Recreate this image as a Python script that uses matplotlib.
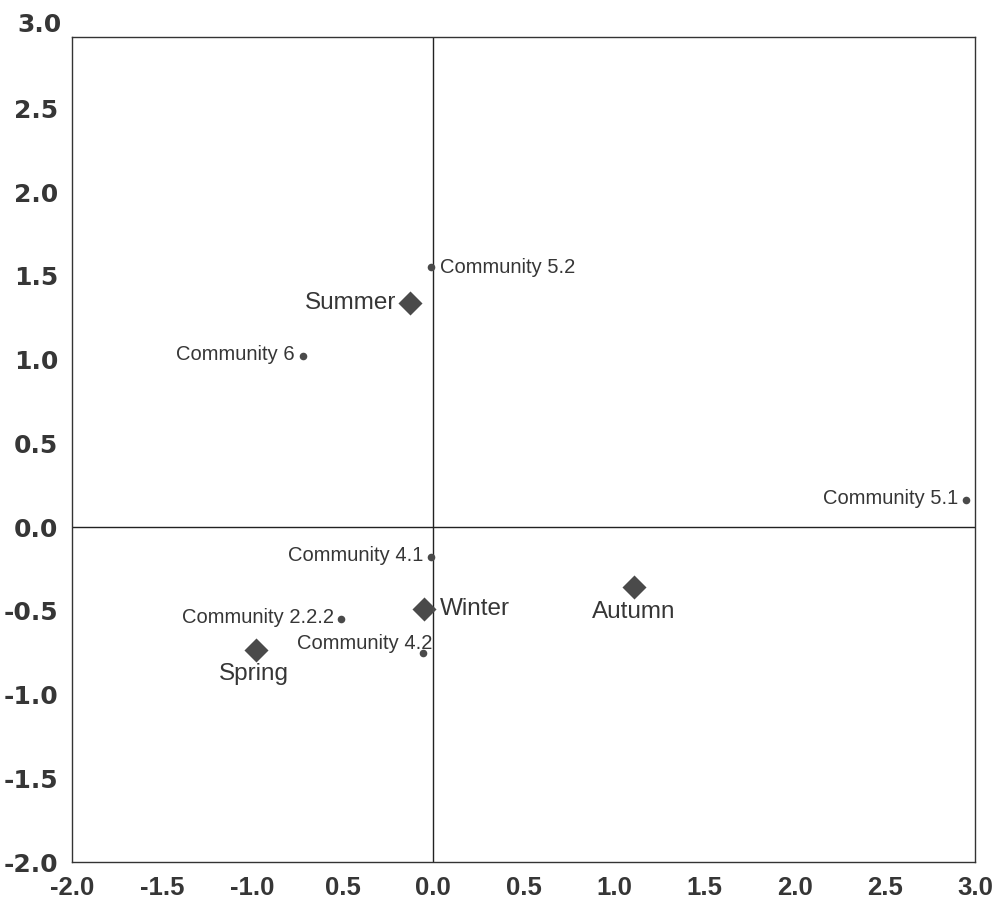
import matplotlib
matplotlib.use("Agg")
import matplotlib.pyplot as plt
import matplotlib.transforms as mtransforms

# Ordination scores: sampling seasons (diamonds) and communities (dots)
season_names = ["Summer", "Winter", "Autumn", "Spring"]
season_x = [-0.13, -0.05, 1.11, -0.98]
season_y = [1.34, -0.49, -0.36, -0.735]

community_names = ["Community 5.2", "Community 6", "Community 5.1",
                   "Community 4.1", "Community 2.2.2", "Community 4.2"]
community_x = [-0.01, -0.72, 2.95, -0.01, -0.51, -0.057]
community_y = [1.55, 1.02, 0.16, -0.18, -0.55, -0.75]

x_ticks = [-2.0, -1.5, -1.0, -0.5, 0.0, 0.5, 1.0, 1.5, 2.0, 2.5, 3.0]
x_tick_labels = ["-2.0", "-1.5", "-1.0", "0.5", "0.0", "0.5", "1.0", "1.5", "2.0", "2.5", "3.0"]
y_ticks = [-2.0, -1.5, -1.0, -0.5, 0.0, 0.5, 1.0, 1.5, 2.0, 2.5]
y_tick_labels = ["-2.0", "-1.5", "-1.0", "-0.5", "0.0", "0.5", "1.0", "1.5", "2.0", "2.5"]
y_top_label = "3.0"

text_col = "#363636"
mark_col = "#4a4a4a"

fig = plt.figure(figsize=(9.98, 9.05), dpi=100)
ax = fig.add_axes([0.0721, 0.0475, 0.905, 0.9115])
ax.set_xlim(-2.0, 3.0)
ax.set_ylim(-2.0, 2.925)

for s in ax.spines.values():
    s.set_color("#333333")
    s.set_linewidth(1.0)

# Zero reference lines
ax.axhline(0, color="#222222", lw=1.0, zorder=1)
ax.axvline(0, color="#222222", lw=1.0, zorder=1)

# Seasons
ax.scatter(season_x, season_y, marker="D", s=150, color=mark_col, zorder=3, linewidths=0)
# Communities
ax.scatter(community_x, community_y, marker="o", s=30, color=mark_col, zorder=3, linewidths=0)

season_font = dict(fontsize=17.5, color=text_col, family="Liberation Sans")
comm_font = dict(fontsize=14.5, color=text_col, family="Liberation Sans")

# Season labels
offsets_season = {
    "Summer": ((-10, 0), "right", "center"),
    "Winter": ((11, 0), "left", "center"),
    "Autumn": ((0, -10), "center", "top"),
    "Spring": ((-2, -9.5), "center", "top"),
}
for name, x, y in zip(season_names, season_x, season_y):
    (dx, dy), ha, va = offsets_season[name]
    ax.annotate(name, (x, y), xytext=(dx, dy), textcoords="offset points",
                ha=ha, va=va, **season_font)

# Community labels
offsets_comm = {
    "Community 5.2": ((6, 0), "left", "center"),
    "Community 6": ((-6, 1), "right", "center"),
    "Community 5.1": ((-6, 1), "right", "center"),
    "Community 4.1": ((-6, 1), "right", "center"),
    "Community 2.2.2": ((-5, 1), "right", "center"),
    "Community 4.2": ((7, 0), "right", "bottom"),
}
for name, x, y in zip(community_names, community_x, community_y):
    (dx, dy), ha, va = offsets_comm[name]
    ax.annotate(name, (x, y), xytext=(dx, dy), textcoords="offset points",
                ha=ha, va=va, **comm_font)

# Ticks
ax.set_xticks(x_ticks)
ax.set_xticklabels(x_tick_labels, family="Liberation Sans",
                   fontweight="bold", fontsize=18.5, color=text_col)
ax.set_yticks(y_ticks)
ax.set_yticklabels(y_tick_labels, family="DejaVu Sans", fontweight="bold",
                   fontsize=18, color=text_col)
ax.tick_params(axis="both", length=0)
ax.tick_params(axis="x", pad=10)
ax.tick_params(axis="y", pad=10)

trans = mtransforms.blended_transform_factory(ax.transAxes, ax.transData)
ax.text(-10 / (0.905 * 998), 3.0, y_top_label, transform=trans, ha="right", va="center",
        family="DejaVu Sans", fontweight="bold", fontsize=18, color=text_col, clip_on=False)

fig.savefig("out.png", dpi=100)
